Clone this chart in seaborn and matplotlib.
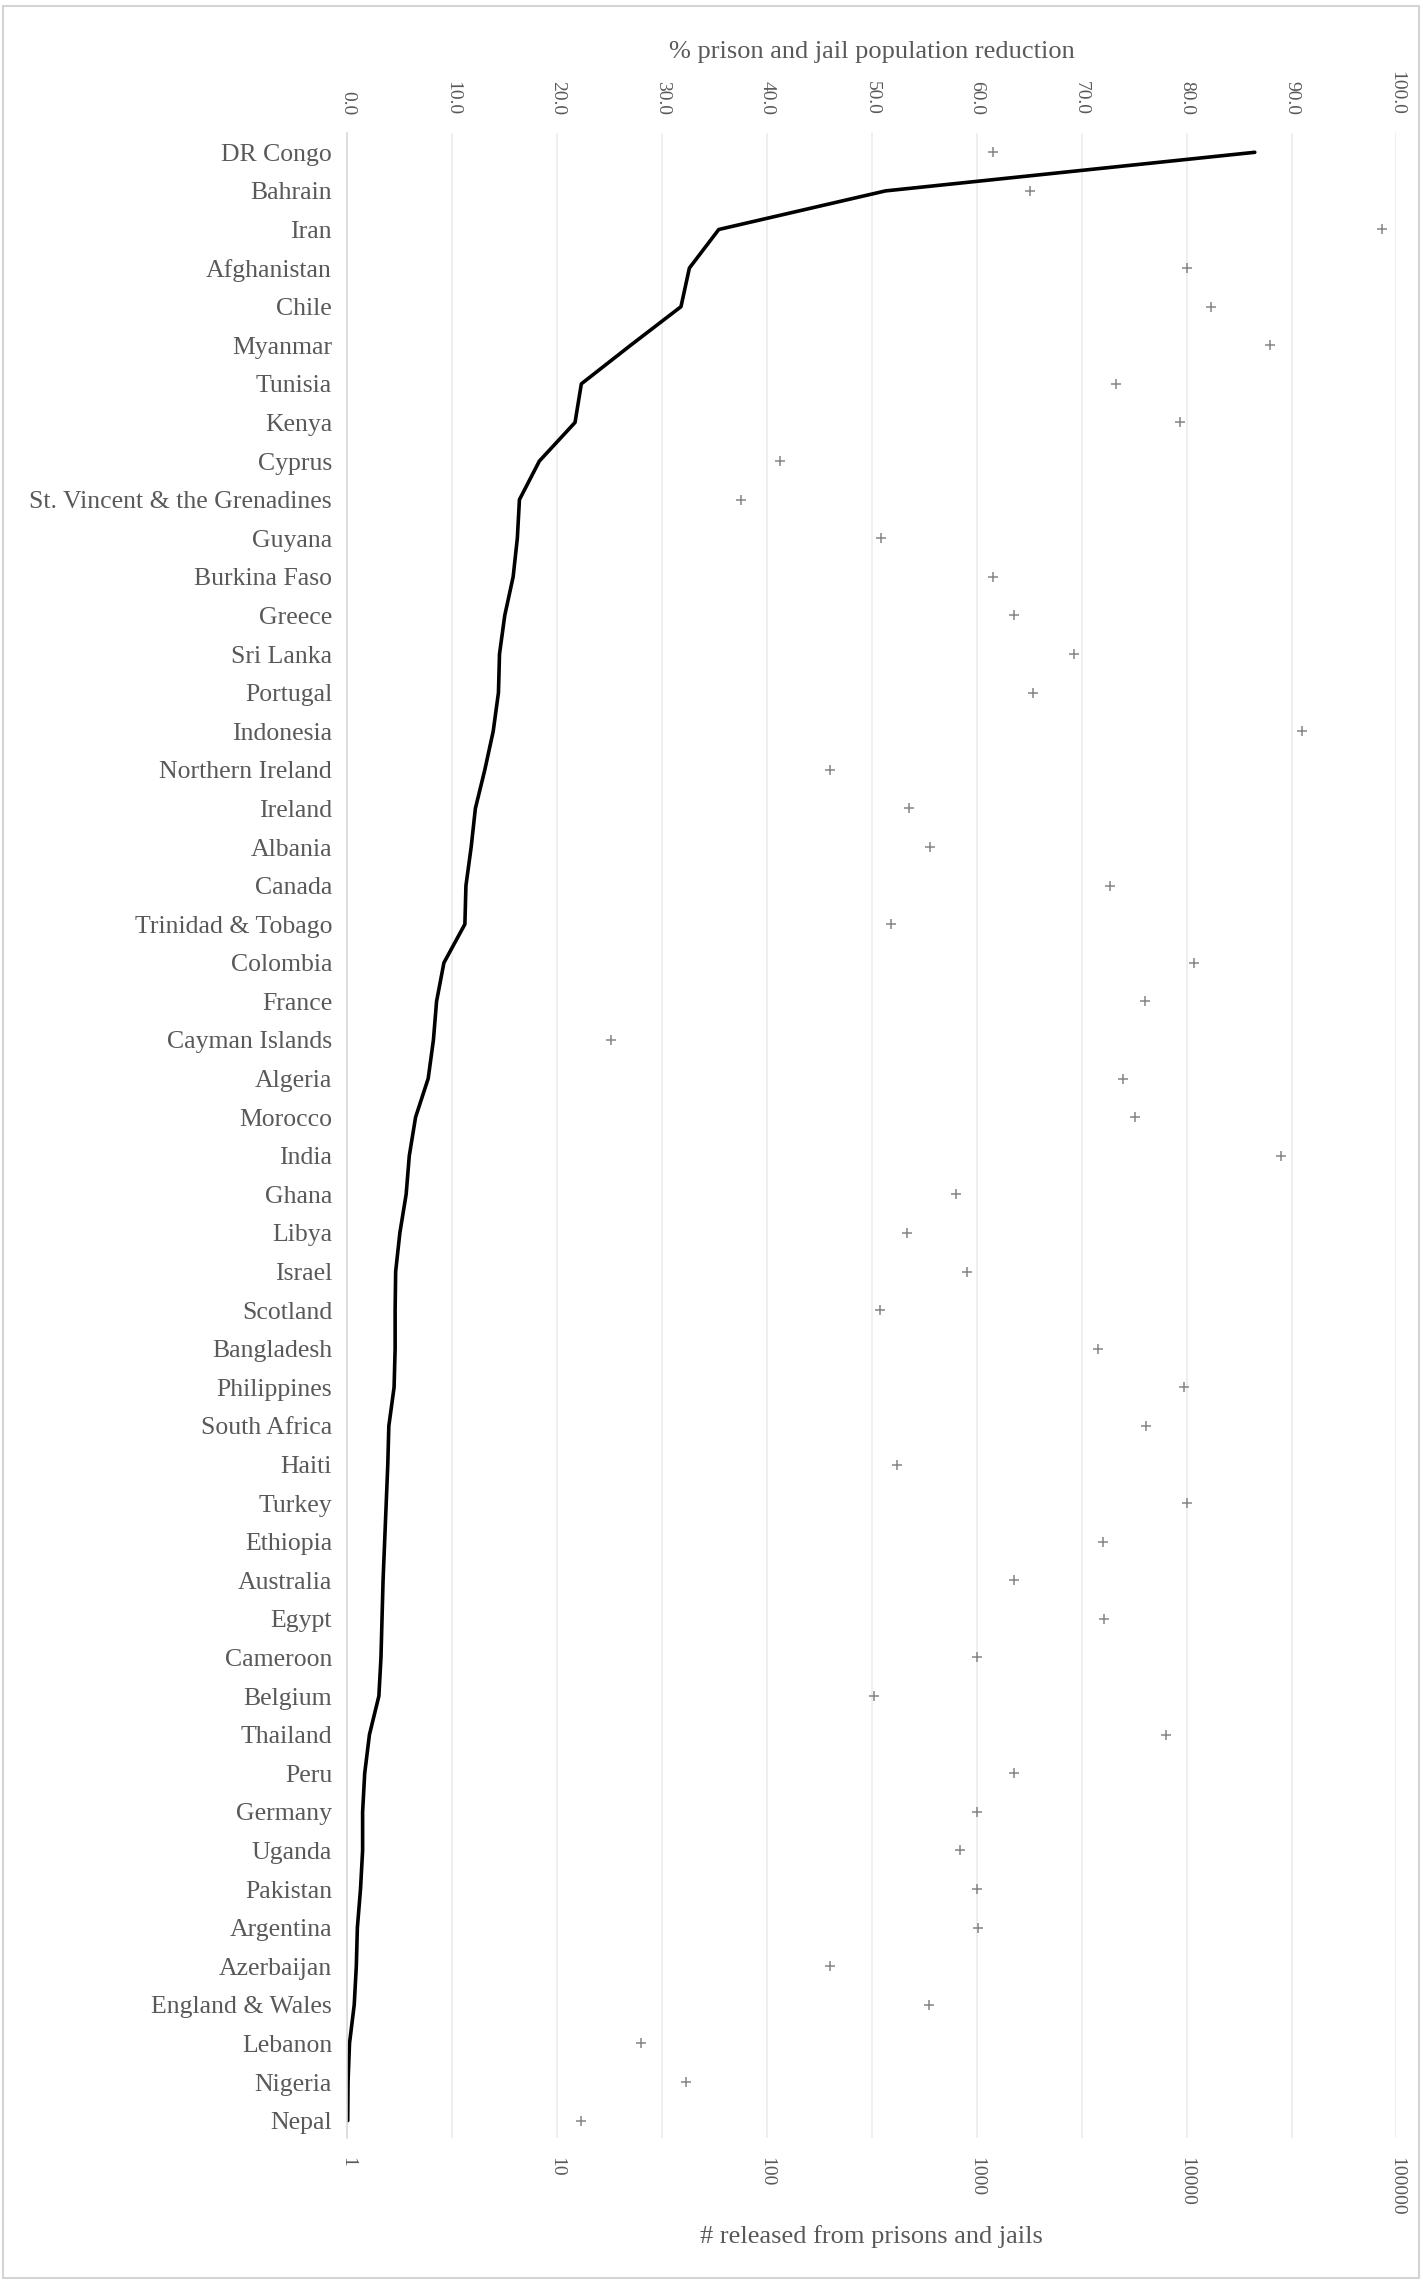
import matplotlib
matplotlib.use("Agg")
import matplotlib.pyplot as plt
from matplotlib.patches import Rectangle
from matplotlib.ticker import FixedLocator, FixedFormatter, NullLocator
import numpy as np
import pandas as pd
import seaborn as sns

countries = ["DR Congo", "Bahrain", "Iran", "Afghanistan", "Chile", "Myanmar", "Tunisia",
             "Kenya", "Cyprus", "St. Vincent & the Grenadines", "Guyana", "Burkina Faso",
             "Greece", "Sri Lanka", "Portugal", "Indonesia", "Northern Ireland", "Ireland",
             "Albania", "Canada", "Trinidad & Tobago", "Colombia", "France", "Cayman Islands",
             "Algeria", "Morocco", "India", "Ghana", "Libya", "Israel", "Scotland",
             "Bangladesh", "Philippines", "South Africa", "Haiti", "Turkey", "Ethiopia",
             "Australia", "Egypt", "Cameroon", "Belgium", "Thailand", "Peru", "Germany",
             "Uganda", "Pakistan", "Argentina", "Azerbaijan", "England & Wales", "Lebanon",
             "Nigeria", "Nepal"]

pct_reduction = [86.5, 51.3, 35.4, 32.6, 31.8, 27.0, 22.3, 21.7, 18.3, 16.4, 16.2, 15.8,
                 15.0, 14.5, 14.4, 13.9, 13.1, 12.2, 11.8, 11.3, 11.2, 9.2, 8.5, 8.2,
                 7.7, 6.5, 5.9, 5.6, 5.0, 4.6, 4.55, 4.55, 4.45, 3.95, 3.85, 3.7, 3.55,
                 3.4, 3.3, 3.2, 3.0, 2.1, 1.65, 1.45, 1.45, 1.25, 0.95, 0.85, 0.65, 0.2,
                 0.06, 0.03]

released = [1200, 1800, 85000, 10000, 13000, 25000, 4600, 9300, 115, 75, 350, 1200,
            1500, 2900, 1850, 35600, 200, 475, 600, 4300, 390, 10800, 6300, 18,
            5000, 5650, 28300, 800, 465, 900, 345, 3800, 9750, 6400, 415, 10000, 4000,
            1500, 4050, 1000, 325, 8000, 1500, 1000, 830, 1000, 1010, 200, 590, 25,
            41, 13]

pct_ticks = [0, 10, 20, 30, 40, 50, 60, 70, 80, 90, 100]
pct_tick_labels = ["0.0", "10.0", "20.0", "30.0", "40.0", "50.0", "60.0", "70.0",
                   "80.0", "90.0", "100.0"]
log_ticks = [1, 10, 100, 1000, 10000, 100000]
log_tick_labels = ["1", "10", "100", "1000", "10000", "100000"]

df = pd.DataFrame({"country": countries, "pct": pct_reduction, "released": released})
df["pos"] = np.arange(len(df))

sns.set_theme(style="white")
plt.rcParams["font.family"] = ["Liberation Serif", "DejaVu Serif"]

TXT = "#595959"
W, H = 1423, 2284
fig = plt.figure(figsize=(W / 100, H / 100), dpi=100)
left, right = 347.4 / W, 1396.4 / W
top, bottom = 1 - 133 / H, 1 - 2138 / H
ax = fig.add_axes([left, bottom, right - left, top - bottom])
ax.set_xscale("log")
ax2 = ax.twiny()

# top axis: percent reduction (line)
sns.lineplot(data=df, x="pct", y="pos", orient="y", estimator=None, sort=False,
             color="black", linewidth=2.6, ax=ax2)
ax2.set_xlim(0, 100)
ax2.xaxis.set_major_locator(FixedLocator(pct_ticks))
ax2.xaxis.set_major_formatter(FixedFormatter(pct_tick_labels))
ax2.grid(axis="x", color="#ebebeb", linewidth=1.1)
ax2.grid(axis="y", visible=False)
ax2.tick_params(axis="x", length=0, pad=13, labelsize=14, labelrotation=270, labelcolor=TXT)
ax2.set_xlabel("% prison and jail population reduction", fontsize=19, color=TXT)
ax2.xaxis.set_label_coords(0.5, (2138 - 52) / 2005)
ax2.xaxis.label.set_va("center")
ax2.set_ylabel("")

# bottom axis: number released (markers)
sns.scatterplot(data=df, x="released", y="pos", marker="+", s=60, color="#858585",
                linewidth=1.1, ax=ax, zorder=3)
ax.set_xlim(1, 100000)
ax.xaxis.set_major_locator(FixedLocator(log_ticks))
ax.xaxis.set_major_formatter(FixedFormatter(log_tick_labels))
ax.xaxis.set_minor_locator(NullLocator())
ax.tick_params(axis="x", length=0, pad=14, labelsize=14, labelrotation=270, labelcolor=TXT)
ax.set_xlabel("# released from prisons and jails", fontsize=19, color=TXT)
ax.xaxis.set_label_coords(0.5, (2138 - 2237) / 2005)
ax.xaxis.label.set_va("center")
ax.grid(False)

ax.set_yticks(df["pos"])
ax.set_yticklabels(df["country"])
ax.tick_params(axis="y", length=0, pad=11, labelsize=18.5, labelcolor=TXT)
ax.set_ylabel("")
ax.set_ylim(51.45, -0.5)

ax.set_zorder(ax2.get_zorder() + 1)
ax.patch.set_visible(False)

for a in (ax, ax2):
    for s in a.spines.values():
        s.set_visible(False)
ax.spines["left"].set_visible(True)
ax.spines["left"].set_color("#d9d9d9")
ax.spines["left"].set_linewidth(1.2)

fig.patches.append(Rectangle((3 / W, 6 / H), 1416 / W, 2272 / H, transform=fig.transFigure,
                             fill=False, edgecolor="#d4d4d4", linewidth=1.5))

fig.savefig("out.png", dpi=100)
